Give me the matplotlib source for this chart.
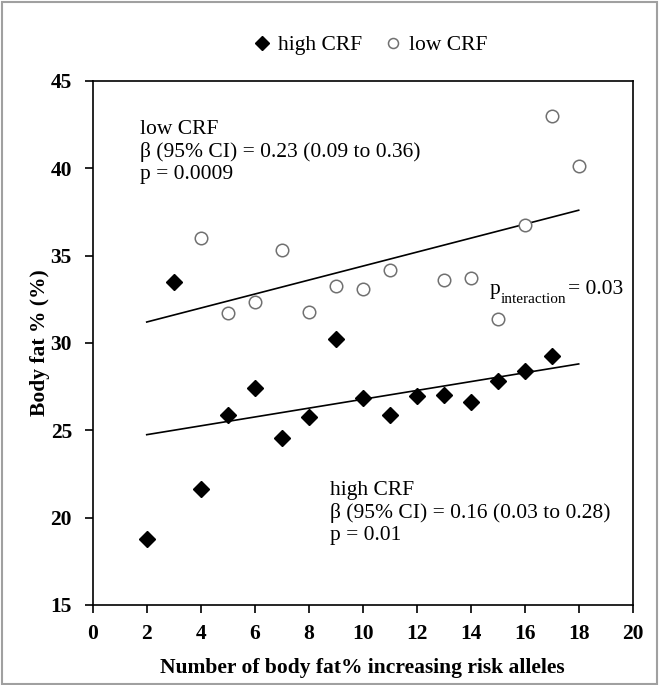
import matplotlib
matplotlib.use("Agg")
import matplotlib.pyplot as plt

plt.rcParams['font.family'] = ['Liberation Serif', 'DejaVu Serif']

# high CRF group
high_x = [2, 3, 4, 5, 6, 7, 8, 9, 10, 11, 12, 13, 14, 15, 16, 17]
high_y = [18.8, 33.5, 21.65, 25.9, 27.45, 24.55, 25.75, 30.2, 26.85, 25.9,
          26.95, 27.0, 26.6, 27.85, 28.4, 29.25]
# low CRF group
low_x = [4, 5, 6, 7, 8, 9, 10, 11, 13, 14, 15, 16, 17, 18]
low_y = [36.0, 31.7, 32.35, 35.35, 31.75, 33.25, 33.1, 34.15, 33.6, 33.7,
         31.4, 36.75, 43.0, 40.15]

# fitted lines (end points)
high_fit_x = [2, 18]
high_fit_y = [24.75, 28.8]
low_fit_x = [2, 18]
low_fit_y = [31.2, 37.6]

fig = plt.figure(figsize=(6.6, 6.85), dpi=100)
ax = fig.add_axes([0.1405, 0.1168, 0.8181, 0.765])

ax.plot(high_fit_x, high_fit_y, color='black', lw=1.2, zorder=2)
ax.plot(low_fit_x, low_fit_y, color='black', lw=1.2, zorder=2)
ax.plot(high_x, high_y, 'D', color='black', markersize=8.5, ls='none',
        label='high CRF', zorder=3)
ax.plot(low_x, low_y, 'o', markerfacecolor='white', markeredgecolor='#707070',
        markeredgewidth=1.1, markersize=9, ls='none', label='low CRF', zorder=3)

ax.set_xlim(0, 20)
ax.set_ylim(15, 45)
ax.set_xticks(range(0, 21, 2))
ax.set_yticks(range(15, 46, 5))
for lab in ax.get_xticklabels() + ax.get_yticklabels():
    lab.set_fontweight('bold')
ax.tick_params(labelsize=15.5, width=1.2, length=6, direction='out')
ax.tick_params(axis='x', pad=8)
ax.tick_params(axis='y', pad=9)
for s in ax.spines.values():
    s.set_linewidth(1.2)

ax.set_xlabel('Number of body fat% increasing risk alleles', fontsize=15.5,
              fontweight='bold', labelpad=10)
ax.set_ylabel('Body fat % (%)', fontsize=15.5, fontweight='bold', labelpad=0)

fs = 15.5
ax.text(1.75, 42.75, 'low CRF\n\u03b2 (95% CI) = 0.23 (0.09 to 0.36)\np = 0.0009',
        fontsize=fs, va='top', ha='left', linespacing=1.2)
ax.text(8.8, 22.1, 'high CRF\n\u03b2 (95% CI) = 0.16 (0.03 to 0.28)\np = 0.01',
        fontsize=fs, va='top', ha='left', linespacing=1.2)

# p with subscript "interaction"
t1 = ax.text(14.7, 32.8, 'p', fontsize=fs, ha='left', va='baseline')
fig.canvas.draw()
bb = t1.get_window_extent()
x1 = ax.transData.inverted().transform((bb.x1, 0))[0]
t2 = ax.text(x1 + 0.02, 32.3, 'interaction', fontsize=11, ha='left', va='baseline')
bb2 = t2.get_window_extent()
x2 = ax.transData.inverted().transform((bb2.x1, 0))[0]
ax.text(x2 + 0.05, 32.8, '= 0.03', fontsize=fs, ha='left', va='baseline')

ax.legend(loc='lower center', bbox_to_anchor=(0.512, 1.012), ncol=2, frameon=False,
          fontsize=fs, handletextpad=0.25, columnspacing=0.9, handlelength=1.0,
          markerscale=0.8)

fig.patches.append(plt.Rectangle((0.003, 0.002), 0.992, 0.995, transform=fig.transFigure,
                                 fill=False, edgecolor='#a0a0a0', lw=1.5))

fig.savefig('out.png', dpi=100)
